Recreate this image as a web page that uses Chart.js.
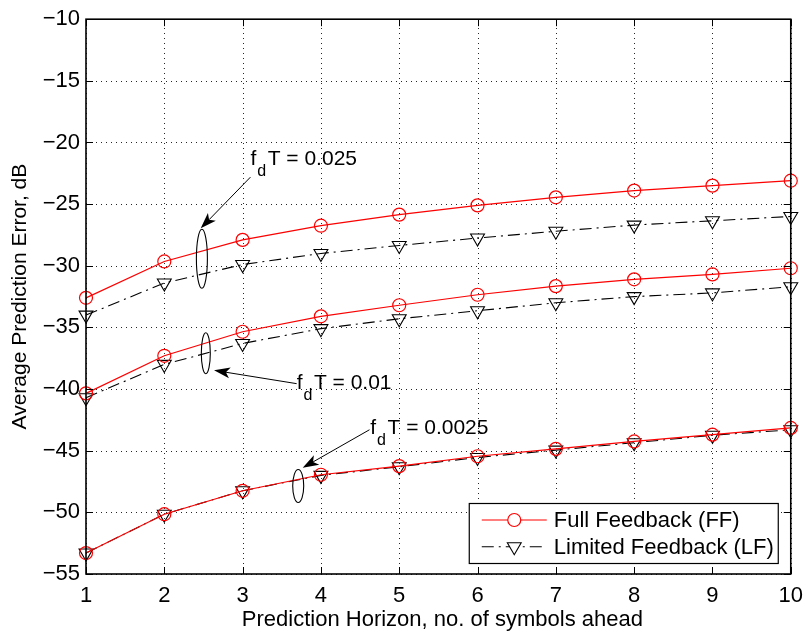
<!DOCTYPE html>
<html><head><meta charset="utf-8">
<script src="https://cdn.jsdelivr.net/npm/chart.js@4.4.0/dist/chart.umd.min.js"></script>
<style>html,body{margin:0;padding:0;background:#fff}#wrap{width:812px;height:635px}</style>
</head><body><div id="wrap"><canvas id="c" width="812" height="635"></canvas></div>
<script>
// ---- data ----
const horizon = [1, 2, 3, 4, 5, 6, 7, 8, 9, 10];
const ff025  = [-32.6, -29.65, -27.9, -26.75, -25.85, -25.1, -24.45, -23.9, -23.5, -23.1];
const lf025  = [-34.0, -31.4, -29.9, -29.0, -28.35, -27.75, -27.2, -26.7, -26.35, -26.0];
const ff01   = [-40.35, -37.3, -35.35, -34.1, -33.2, -32.35, -31.65, -31.1, -30.7, -30.2];
const lf01   = [-40.7, -38.0, -36.3, -35.1, -34.3, -33.65, -33.0, -32.5, -32.2, -31.7];
const ff0025 = [-53.3, -50.15, -48.25, -46.95, -46.25, -45.45, -44.85, -44.25, -43.7, -43.15];
const lf0025 = [-53.3, -50.15, -48.25, -47.0, -46.3, -45.55, -44.95, -44.35, -43.75, -43.3];
const xTickValues = [1, 2, 3, 4, 5, 6, 7, 8, 9, 10];
const yTickValues = [-55, -50, -45, -40, -35, -30, -25, -20, -15, -10];
const legendLabels = ['Full Feedback (FF)', 'Limited Feedback (LF)'];
const xTitle = 'Prediction Horizon, no. of symbols ahead';
const yTitle = 'Average Prediction Error, dB';
const groupLabels = ['0.025', '0.01', '0.0025'];

const FONT = '"Liberation Sans", Arial, Helvetica, sans-serif';
const RED = '#ff0000';

function pts(arr) { return horizon.map((x, i) => ({ x: x, y: arr[i] })); }

function ffSet(arr) {
  return { label: legendLabels[0], data: pts(arr), borderColor: RED, borderWidth: 1.2,
    pointStyle: 'circle', pointRadius: 6.5, pointBorderColor: RED, pointBackgroundColor: 'rgba(0,0,0,0)',
    pointBorderWidth: 1.2, fill: false, tension: 0, clip: false };
}
function lfSet(arr) {
  return { label: legendLabels[1], data: pts(arr), borderColor: '#000', borderWidth: 1.1,
    borderDash: [12, 5, 2, 5], pointStyle: 'triangle', pointRotation: 180, pointRadius: 8,
    pointBorderColor: '#000', pointBackgroundColor: 'rgba(0,0,0,0)', pointBorderWidth: 1.1,
    fill: false, tension: 0, clip: false };
}

// annotations (data coords for anchors; pixel sizes for ellipse radii)
const annots = [
  { ell: [2.48, -29.43, 5.5, 29.5], arrowTail: [3.10, -22.81], arrowHead: [2.465, -26.96], text: [3.10, -21.2], label: groupLabels[0] },
  { ell: [2.53, -37.09, 4.5, 20.5], arrowTail: [3.69, -39.56], arrowHead: [2.635, -38.48], text: [3.69, -39.42], label: groupLabels[1] },
  { ell: [3.71, -47.86, 5.5, 16.5], arrowTail: [4.62, -43.3], arrowHead: [3.767, -46.39], text: [4.63, -43.04], label: groupLabels[2] }
];

function drawArrow(ctx, tx, ty, hx, hy) {
  const ang = Math.atan2(hy - ty, hx - tx);
  const L = 16, W = 5.5, N = 4;
  ctx.save();
  ctx.strokeStyle = '#000'; ctx.fillStyle = '#000'; ctx.lineWidth = 1;
  ctx.beginPath(); ctx.moveTo(tx, ty);
  ctx.lineTo(hx - Math.cos(ang) * (L - N), hy - Math.sin(ang) * (L - N)); ctx.stroke();
  ctx.translate(hx, hy); ctx.rotate(ang);
  ctx.beginPath(); ctx.moveTo(0, 0); ctx.lineTo(-L, -W); ctx.lineTo(-L + N, 0); ctx.lineTo(-L, W); ctx.closePath(); ctx.fill();
  ctx.restore();
}

function drawSubLabel(ctx, x, yc, val) {
  ctx.save();
  ctx.fillStyle = '#000'; ctx.textBaseline = 'alphabetic'; ctx.textAlign = 'left';
  const base = yc + 0.358 * 21;
  ctx.font = '21px ' + FONT;
  ctx.fillText('f', x, base);
  let w = ctx.measureText('f').width + 1;
  ctx.font = '16px ' + FONT;
  ctx.fillText('d', x + w, base + 11);
  w += ctx.measureText('d').width + 1.5;
  ctx.font = '21px ' + FONT;
  ctx.fillText('T = ' + val, x + w, base);
  ctx.restore();
}

const matlabPlugin = {
  id: 'matlab',
  beforeDatasetsDraw(chart) {
    const { ctx, chartArea: a, scales: { x, y } } = chart;
    ctx.save();
    ctx.strokeStyle = 'rgba(0,0,0,0.85)'; ctx.lineWidth = 1; ctx.setLineDash([1, 4]);
    xTickValues.forEach(v => { const px = Math.round(x.getPixelForValue(v)) + 0.5;
      ctx.beginPath(); ctx.moveTo(px, a.bottom); ctx.lineTo(px, a.top); ctx.stroke(); });
    yTickValues.forEach(v => { const py = Math.round(y.getPixelForValue(v)) + 0.5;
      ctx.beginPath(); ctx.moveTo(a.left, py); ctx.lineTo(a.right, py); ctx.stroke(); });
    ctx.restore();
  },
  afterDatasetsDraw(chart) {
    const { ctx, chartArea: a, scales: { x, y } } = chart;
    ctx.save();
    ctx.strokeStyle = '#000'; ctx.lineWidth = 1; ctx.setLineDash([]);
    const T = 7;
    xTickValues.forEach(v => { const px = Math.round(x.getPixelForValue(v)) + 0.5;
      ctx.beginPath(); ctx.moveTo(px, a.bottom); ctx.lineTo(px, a.bottom - T);
      ctx.moveTo(px, a.top); ctx.lineTo(px, a.top + T); ctx.stroke(); });
    yTickValues.forEach(v => { const py = Math.round(y.getPixelForValue(v)) + 0.5;
      ctx.beginPath(); ctx.moveTo(a.left, py); ctx.lineTo(a.left + T, py);
      ctx.moveTo(a.right, py); ctx.lineTo(a.right - T, py); ctx.stroke(); });
    ctx.lineWidth = 1.6;
    ctx.strokeRect(a.left, a.top, a.right - a.left, a.bottom - a.top);
    ctx.restore();

    // annotations
    annots.forEach(an => {
      const cx = x.getPixelForValue(an.ell[0]), cy = y.getPixelForValue(an.ell[1]);
      ctx.save(); ctx.strokeStyle = '#000'; ctx.lineWidth = 1.1;
      ctx.beginPath(); ctx.ellipse(cx, cy, an.ell[2], an.ell[3], 0, 0, Math.PI * 2); ctx.stroke(); ctx.restore();
      drawArrow(ctx, x.getPixelForValue(an.arrowTail[0]), y.getPixelForValue(an.arrowTail[1]),
        x.getPixelForValue(an.arrowHead[0]), y.getPixelForValue(an.arrowHead[1]));
      drawSubLabel(ctx, x.getPixelForValue(an.text[0]), y.getPixelForValue(an.text[1]), an.label);
    });

    // legend
    const L = { x: a.right - 322, y: a.bottom - 71, w: 309, h: 60 };
    ctx.save();
    ctx.fillStyle = '#fff'; ctx.fillRect(L.x, L.y, L.w, L.h);
    ctx.strokeStyle = '#000'; ctx.lineWidth = 1.2; ctx.strokeRect(L.x + 0.5, L.y + 0.5, L.w, L.h);
    const ds = chart.data.datasets;
    const rows = [ds[0], ds[1]];
    rows.forEach((d, i) => {
      const ry = L.y + 17 + i * 26.7;
      const x0 = L.x + 13, x1 = L.x + 78, xm = (x0 + x1) / 2;
      ctx.save();
      ctx.strokeStyle = d.borderColor; ctx.lineWidth = d.borderWidth;
      ctx.setLineDash(d.borderDash || []);
      ctx.beginPath(); ctx.moveTo(x0, ry); ctx.lineTo(x1, ry); ctx.stroke();
      ctx.setLineDash([]);
      ctx.lineWidth = d.pointBorderWidth; ctx.strokeStyle = d.pointBorderColor;
      ctx.beginPath();
      if (d.pointStyle === 'circle') { ctx.arc(xm, ry, d.pointRadius, 0, Math.PI * 2); }
      else { const r = d.pointRadius;
        ctx.moveTo(xm - r * 0.866, ry - r * 0.5); ctx.lineTo(xm + r * 0.866, ry - r * 0.5); ctx.lineTo(xm, ry + r); ctx.closePath(); }
      ctx.fillStyle = '#fff'; ctx.fill(); ctx.stroke();
      ctx.restore();
      ctx.fillStyle = '#000'; ctx.font = '22px ' + FONT; ctx.textBaseline = 'middle'; ctx.textAlign = 'left';
      ctx.fillText(d.label, L.x + 85, ry + 1);
    });
    ctx.restore();

    // axis titles
    ctx.save();
    ctx.fillStyle = '#000'; ctx.font = '22px ' + FONT; ctx.textAlign = 'center'; ctx.textBaseline = 'middle';
    ctx.fillText(xTitle, (a.left + a.right) / 2 + 4, 620);
    ctx.translate(20, (a.top + a.bottom) / 2); ctx.rotate(-Math.PI / 2);
    ctx.font = '21px ' + FONT;
    ctx.fillText(yTitle, 0, 0);
    ctx.restore();
  }
};

const chart = new Chart(document.getElementById('c'), {
  type: 'line',
  data: { datasets: [ffSet(ff025), lfSet(lf025), ffSet(ff01), lfSet(lf01), ffSet(ff0025), lfSet(lf0025)] },
  options: {
    responsive: false, animation: false, devicePixelRatio: 1,
    layout: { padding: { top: 14, right: 16, left: 0, bottom: 0 } },
    plugins: { legend: { display: false }, tooltip: { enabled: false } },
    scales: {
      x: { type: 'linear', min: 1, max: 10,
        afterFit(s) { s.height = 61; },
        afterBuildTicks(s) { s.ticks = xTickValues.map(v => ({ value: v })); },
        grid: { display: false, drawTicks: false }, border: { display: false },
        ticks: { color: '#000', font: { family: FONT, size: 22 }, padding: 9, maxRotation: 0, autoSkip: false } },
      y: { type: 'linear', min: -55, max: -10,
        afterFit(s) { s.width = 86; },
        afterBuildTicks(s) { s.ticks = yTickValues.map(v => ({ value: v })); },
        grid: { display: false, drawTicks: false }, border: { display: false },
        ticks: { color: '#000', font: { family: FONT, size: 22 }, padding: 6, autoSkip: false,
          callback: v => String(v).replace('-', '\u2212') } }
    }
  },
  plugins: [matlabPlugin]
});
</script></body></html>
